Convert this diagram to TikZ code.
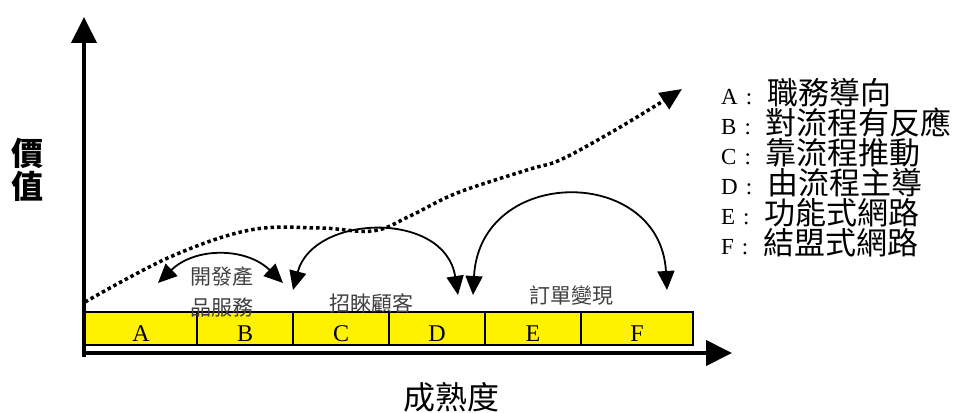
\documentclass[tikz,border=0pt]{standalone}
\usepackage{fontspec}
\setmainfont{Liberation Serif}
\newfontfamily\cjk{Noto Sans CJK TC}
\usetikzlibrary{arrows.meta}
\tikzset{
  axis/.style={line width=4pt, -{Triangle[length=26pt,width=25pt]}},
  cell/.style={draw, line width=2pt, fill=yellow, minimum height=33pt, anchor=west, inner sep=0pt},
  letter/.style={font=\fontsize{24}{24}\selectfont, anchor=base, inner sep=0pt},
  arc/.style={line width=1.8pt, {Triangle[length=19pt,width=17pt]}-{Triangle[length=19pt,width=17pt]}},
  trend/.style={line width=3.5pt, dash pattern=on 3.5pt off 3pt, -{Triangle[length=22pt,width=19pt]}},
  phase/.style={font=\cjk\fontsize{21}{31}\selectfont, text=black!75, align=center, inner sep=0pt},
  legend/.style={anchor=base west, inner sep=0pt},
  big/.style={font=\cjk\bfseries\fontsize{32}{33}\selectfont, align=center, inner sep=0pt}
}
\begin{document}
\begin{tikzpicture}[x=1pt, y=-1pt]
\useasboundingbox (0,0) rectangle (968,412);
% axes
\coordinate (O) at (84,355);
\coordinate (Ytip) at (84,17);
\coordinate (Xtip) at (732,353);
\coordinate (Xs) at (82,353);
\draw[axis] ([yshift=-2pt]O) -- (Ytip);
\draw[axis] (Xs) -- (Xtip);
% bar
\node[cell, minimum width=112pt] (A) at (84,328.5) {};
\node[cell, minimum width=96pt] (B) at (196,328.5) {};
\node[cell, minimum width=96pt] (C) at (292,328.5) {};
\node[cell, minimum width=96pt] (D) at (388,328.5) {};
\node[cell, minimum width=96pt] (E) at (484,328.5) {};
\node[cell, minimum width=112pt] (F) at (580,328.5) {};
\node[letter] (lA) at ([yshift=-13pt]A.center) {A};
\node[letter] (lB) at ([yshift=-13pt]B.center) {B};
\node[letter] (lC) at ([yshift=-13pt]C.center) {C};
\node[letter] (lD) at ([yshift=-13pt]D.center) {D};
\node[letter] (lE) at ([yshift=-13pt]E.center) {E};
\node[letter] (lF) at ([yshift=-13pt]F.center) {F};
% trend curve
\draw[trend] plot[smooth, tension=0.6] coordinates {(85,302) (170,257) (250,230) (320,228) (373,231) (410,216) (457,193) (527,170) (560,160) (610,133) (660,103) (682,89)};
% arcs
\coordinate (a1) at (158,283);
\coordinate (b1) at (283,283);
\draw[arc] (a1) .. controls (195,247) and (246,247) .. (b1);
\coordinate (a2) at (293,290);
\coordinate (b2) at (458,295);
\draw[arc] (a2) .. controls (313,214) and (445,210) .. (b2);
\coordinate (a3) at (473,295);
\coordinate (b3) at (667,290);
\draw[arc] (a3) .. controls (480,165) and (660,165) .. (b3);
% phase labels
\node[phase] (p1) at (222,292) {開發產\\品服務};
\node[phase] (p2) at (371,303) {招睞顧客};
\node[phase] (p3) at (571,296) {訂單變現};
% axis labels
\node[big] (ylab) at (28,170) {價\\值};
\node[big, font=\cjk\fontsize{32}{33}\selectfont] (xlab) at (451,397) {成熟度};
% legend
\newcommand{\lgA}{\fontsize{23}{23}\selectfont}
\newcommand{\lgC}{\cjk\fontsize{31}{31}\selectfont}
\newcommand{\lgSep}{\hspace{8pt}:\hspace{15pt}}
\node[legend] (g1) at (721,104) {{\lgA A\lgSep}{\lgC 職務導向}};
\node[legend] (g2) at (721,134) {{\lgA B\lgSep}{\lgC 對流程有反應}};
\node[legend] (g3) at (721,164) {{\lgA C\lgSep}{\lgC 靠流程推動}};
\node[legend] (g4) at (721,194) {{\lgA D\lgSep}{\lgC 由流程主導}};
\node[legend] (g5) at (721,224) {{\lgA E\lgSep}{\lgC 功能式網路}};
\node[legend] (g6) at (721,254) {{\lgA F\lgSep}{\lgC 結盟式網路}};
\end{tikzpicture}
\end{document}
